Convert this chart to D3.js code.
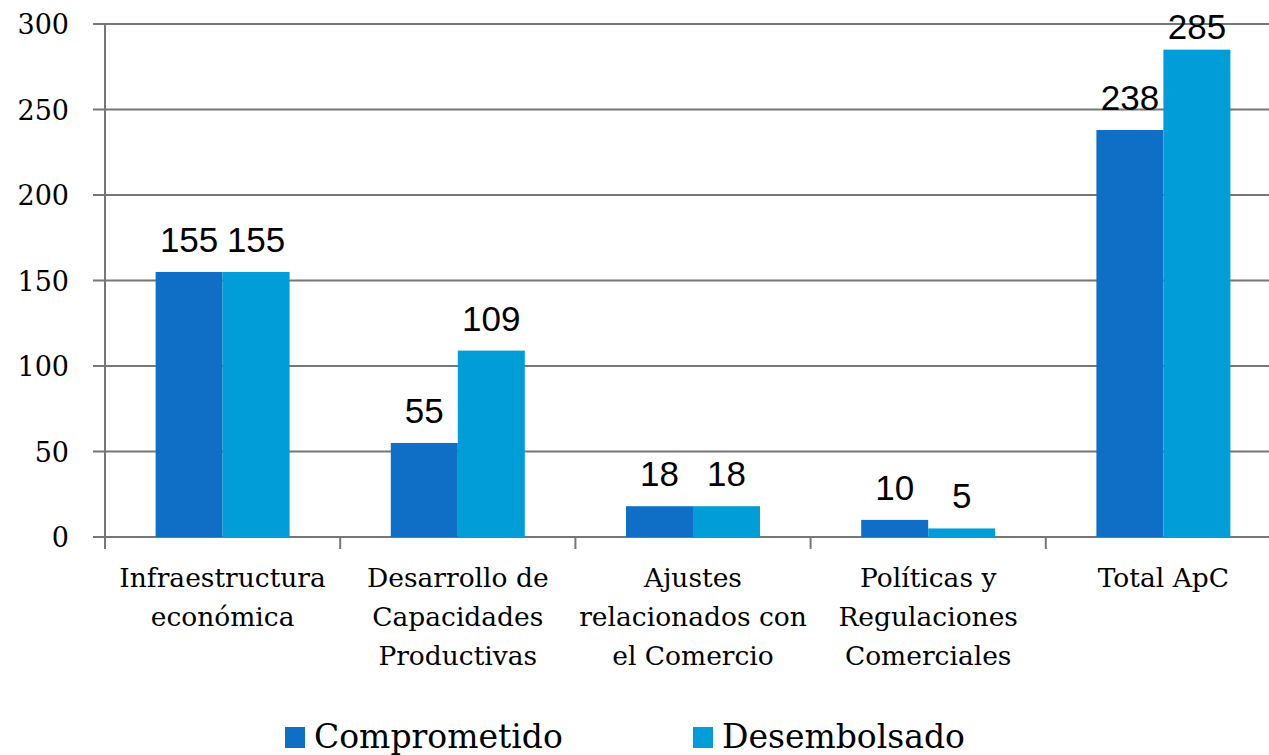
<!DOCTYPE html>
<html>
<head>
<meta charset="utf-8">
<script src="https://cdn.jsdelivr.net/npm/d3@7"></script>
<style>
  body { margin:0; background:#fff; }
  svg { display:block; }
</style>
</head>
<body>
<svg id="chart" width="1269" height="755"></svg>
<script>
const categories = [
  ["Infraestructura","económica"],
  ["Desarrollo de","Capacidades","Productivas"],
  ["Ajustes","relacionados con","el Comercio"],
  ["Políticas y","Regulaciones","Comerciales"],
  ["Total ApC"]
];
const series = ["Comprometido","Desembolsado"];
const comprometido = [155, 55, 18, 10, 238];
const desembolsado = [155, 109, 18, 5, 285];
const yTicks = [0, 50, 100, 150, 200, 250, 300];
const colors = ["#0f6fc6","#009dd9"];

const svg = d3.select("#chart");
const serif = "'DejaVu Serif', 'Liberation Serif', serif";
const sans = "'Liberation Sans', Arial, sans-serif";

const x0 = d3.scaleBand().domain(d3.range(categories.length)).range([105, 1281]);
const x1 = d3.scaleBand().domain([0,1]).range([0, 134]);
const y = d3.scaleLinear().domain([0,300]).range([537, 24]);

// grid
svg.append("g").selectAll("line").data(yTicks).enter().append("line")
  .attr("x1",93).attr("x2",1269)
  .attr("y1",d=>y(d)).attr("y2",d=>y(d))
  .attr("stroke","#777").attr("stroke-width",2);

// y axis line
svg.append("line").attr("x1",105).attr("x2",105).attr("y1",y(300)).attr("y2",549)
  .attr("stroke","#777").attr("stroke-width",2);

// category ticks
svg.append("g").selectAll("line").data(d3.range(1,categories.length)).enter().append("line")
  .attr("x1",d=>x0(d)).attr("x2",d=>x0(d)).attr("y1",537).attr("y2",549)
  .attr("stroke","#777").attr("stroke-width",2);

// y labels
svg.append("g").selectAll("text").data(yTicks).enter().append("text")
  .attr("x",69).attr("y",d=>y(d)+10)
  .attr("text-anchor","end").attr("font-family",serif).attr("font-size",27)
  .text(d=>d);

// bars
const data = categories.map((c,i)=>[comprometido[i], desembolsado[i]]);
const groups = svg.append("g").selectAll("g").data(data).enter().append("g")
  .attr("transform",(d,i)=>`translate(${x0(i)+x0.bandwidth()/2-67},0)`);

groups.selectAll("rect").data(d=>d).enter().append("rect")
  .attr("x",(d,j)=>x1(j)).attr("width",x1.bandwidth())
  .attr("y",d=>y(d)).attr("height",d=>y(0)-y(d))
  .attr("fill",(d,j)=>colors[j]);

// labels stay inside the plot, like the original
groups.selectAll("text").data(d=>d).enter().append("text")
  .attr("x",(d,j)=>x1(j)+x1.bandwidth()/2).attr("y",d=>Math.max(y(d)-20, 39))
  .attr("text-anchor","middle").attr("font-family",sans).attr("font-size",35)
  .text(d=>d);

// category labels
const catG = svg.append("g").selectAll("text").data(categories).enter().append("text")
  .attr("text-anchor","middle").attr("font-family",serif).attr("font-size",26.5)
  .attr("x",(d,i)=>x0(i)+x0.bandwidth()/2).attr("y",587);
catG.selectAll("tspan").data(d=>d).enter().append("tspan")
  .attr("x",function(){return this.parentNode.getAttribute("x");})
  .attr("dy",(d,k)=>k===0?0:39)
  .text(d=>d);

// legend
const legX = [285, 693];
const leg = svg.append("g").selectAll("g").data(series).enter().append("g")
  .attr("transform",(d,i)=>`translate(${legX[i]},0)`);
leg.append("rect").attr("x",0).attr("y",727).attr("width",20).attr("height",21)
  .attr("fill",(d,i)=>colors[i]);
leg.append("text").attr("x",29).attr("y",748)
  .attr("font-family",serif).attr("font-size",33).text(d=>d);
</script>
</body>
</html>
